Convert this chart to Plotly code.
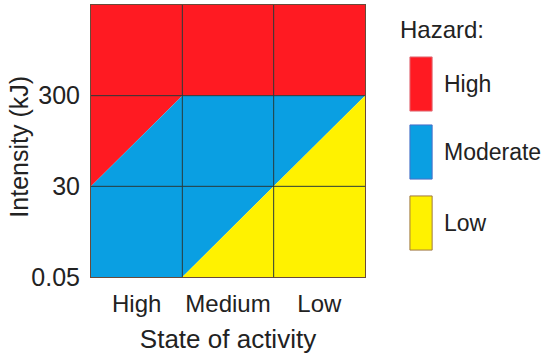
import plotly.graph_objects as go

# ---- data ----
x_categories = ["High", "Medium", "Low"]          # state of activity
y_tick_labels = ["0.05", "30", "300"]            # intensity (kJ) thresholds
hazard_levels = ["High", "Moderate", "Low"]
hazard_colors = ["#FF1A22", "#0A9FE2", "#FFF200"]
legend_borders = ["#E0707A", "#4A6FC8", "#A07840"]

# zone outlines in grid units (x: category edges 0..3, y: intensity level index 0..3)
zone_x = {
    "High":     [0, 3, 3, 1, 0],
    "Moderate": [0, 1, 3, 1, 0],
    "Low":      [1, 3, 3],
}
zone_y = {
    "High":     [3, 3, 2, 2, 1],
    "Moderate": [0, 0, 2, 2, 1],
    "Low":      [0, 0, 2],
}

FONT = "Liberation Sans, Arial, sans-serif"
TXT = "#222222"

fig = go.Figure()
for lvl, col in zip(hazard_levels, hazard_colors):
    fig.add_trace(go.Scatter(
        x=zone_x[lvl], y=zone_y[lvl], fill="toself", fillcolor=col,
        mode="lines", line=dict(width=0, color=col), showlegend=False,
        hoverinfo="skip"))

n = len(x_categories)
shapes = []
# grid lines on top of the fills
for i in range(1, n):
    shapes.append(dict(type="line", xref="x", yref="y", x0=i, x1=i, y0=0, y1=n,
                       line=dict(color="#2a3a3a", width=1), layer="above"))
    shapes.append(dict(type="line", xref="x", yref="y", x0=0, x1=n, y0=i, y1=i,
                       line=dict(color="#2a3a3a", width=1), layer="above"))

# custom legend with tall swatches
sw_y = [(0.809, 0.610), (0.559, 0.360), (0.298, 0.099)]
annotations = [
    dict(text="Hazard:", xref="paper", yref="paper", x=1.12, y=0.91,
         xanchor="left", yanchor="middle", showarrow=False,
         font=dict(size=24, color=TXT, family=FONT)),
    dict(text="Intensity (kJ)", xref="paper", yref="paper", x=-0.262, y=0.48,
         xanchor="center", yanchor="middle", textangle=-90, showarrow=False,
         font=dict(size=25, color=TXT, family=FONT)),
]
for lvl, col, bc, (ytop, ybot) in zip(hazard_levels, hazard_colors, legend_borders, sw_y):
    shapes.append(dict(type="rect", xref="paper", yref="paper",
                       x0=1.164, x1=1.245, y0=ybot, y1=ytop,
                       fillcolor=col, line=dict(color=bc, width=1)))
    annotations.append(dict(text=lvl, xref="paper", yref="paper", x=1.28,
                            y=(ytop + ybot) / 2, xanchor="left", yanchor="middle",
                            showarrow=False, font=dict(size=23, color=TXT, family=FONT)))

fig.update_layout(
    width=550, height=364,
    margin=dict(l=91, r=185, t=5, b=87),
    paper_bgcolor="white", plot_bgcolor="white",
    font=dict(family=FONT, color=TXT, size=22),
    shapes=shapes, annotations=annotations,
    xaxis=dict(range=[0, n], tickvals=[i + 0.5 for i in range(n)],
               ticktext=x_categories, showgrid=False, zeroline=False,
               showline=True, linecolor="#6a4a3a", linewidth=1, mirror=True,
               ticks="", tickfont=dict(size=24), automargin=False,
               ticklabelstandoff=5,
               title=dict(text="State of activity", font=dict(size=26), standoff=14)),
    yaxis=dict(range=[0, n], tickvals=list(range(n)), ticktext=y_tick_labels,
               showgrid=False, zeroline=False, showline=True, linecolor="#6a4a3a",
               linewidth=1, mirror=True, ticks="", tickfont=dict(size=25),
               automargin=False, ticklabelstandoff=5),
)

fig.write_html("out.html", post_script="document.body.style.margin='0';",
               config={"displayModeBar": False})
